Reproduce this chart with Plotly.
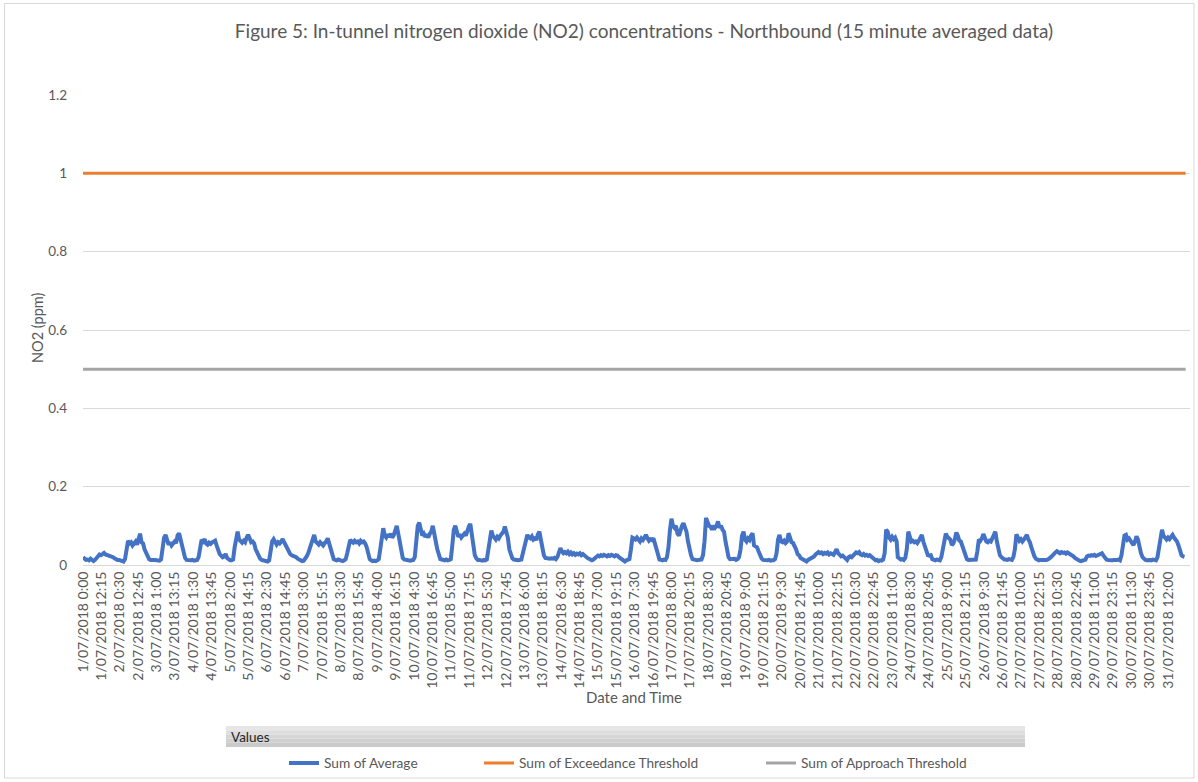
import pandas as pd
import plotly.graph_objects as go

# ---------------- text ----------------
TITLE = "Figure 5: In-tunnel nitrogen dioxide (NO2) concentrations - Northbound (15 minute averaged data)"
Y_TITLE = "NO2 (ppm)"
X_TITLE = "Date and Time"
FIELD_BUTTON = "Values"
NAME_AVG = "Sum of Average"
NAME_EXC = "Sum of Exceedance Threshold"
NAME_APP = "Sum of Approach Threshold"

# ---------------- data ----------------
EXCEEDANCE_THRESHOLD = 1.0
APPROACH_THRESHOLD = 0.5
PERIOD_START = "2018-07-01 00:00"
PERIOD_END = "2018-07-31 23:45"
MISSING_START = "2018-07-23 14:45"   # no readings logged until next day
MISSING_END = "2018-07-23 23:45"
LABEL_EVERY = 49                      # one category label every 49 slots
Y_TICKS = [0, 0.2, 0.4, 0.6, 0.8, 1, 1.2]

# NO2 (ppm) at each whole hour (0:00, 1:00, ... 23:00)
jul01 = [0.020, 0.016, 0.013, 0.014, 0.012, 0.016, 0.012, 0.010, 0.013, 0.018, 0.024, 0.027,
         0.025, 0.028, 0.031, 0.027, 0.026, 0.025, 0.022, 0.023, 0.020, 0.017, 0.014, 0.013]
jul02 = [0.013, 0.012, 0.010, 0.009, 0.015, 0.040, 0.062, 0.055, 0.058, 0.050, 0.056, 0.060,
         0.052, 0.068, 0.080, 0.058, 0.055, 0.040, 0.030, 0.020, 0.015, 0.013, 0.012, 0.013]
jul03 = [0.013, 0.012, 0.013, 0.011, 0.014, 0.040, 0.070, 0.077, 0.060, 0.052, 0.058, 0.050,
         0.055, 0.060, 0.056, 0.075, 0.081, 0.065, 0.045, 0.028, 0.018, 0.013, 0.012, 0.013]
jul04 = [0.012, 0.013, 0.011, 0.012, 0.013, 0.020, 0.045, 0.064, 0.060, 0.066, 0.055, 0.052,
         0.057, 0.054, 0.058, 0.060, 0.062, 0.050, 0.038, 0.028, 0.024, 0.020, 0.022, 0.028]
jul05 = [0.018, 0.014, 0.012, 0.012, 0.014, 0.045, 0.075, 0.085, 0.065, 0.060, 0.057, 0.062,
         0.058, 0.070, 0.077, 0.068, 0.058, 0.060, 0.055, 0.040, 0.030, 0.020, 0.016, 0.013]
jul06 = [0.012, 0.010, 0.011, 0.009, 0.012, 0.035, 0.060, 0.066, 0.056, 0.052, 0.058, 0.055,
         0.060, 0.066, 0.058, 0.050, 0.045, 0.035, 0.028, 0.025, 0.024, 0.022, 0.020, 0.016]
jul07 = [0.014, 0.012, 0.010, 0.011, 0.015, 0.022, 0.030, 0.040, 0.050, 0.060, 0.077, 0.060,
         0.055, 0.052, 0.058, 0.055, 0.050, 0.056, 0.060, 0.068, 0.055, 0.040, 0.025, 0.015]
jul08 = [0.013, 0.012, 0.014, 0.012, 0.011, 0.010, 0.012, 0.015, 0.030, 0.050, 0.064, 0.060,
         0.057, 0.062, 0.058, 0.060, 0.055, 0.062, 0.058, 0.060, 0.055, 0.045, 0.030, 0.015]
jul09 = [0.012, 0.010, 0.011, 0.010, 0.012, 0.015, 0.040, 0.070, 0.094, 0.075, 0.070, 0.078,
         0.072, 0.080, 0.070, 0.076, 0.085, 0.100, 0.080, 0.060, 0.030, 0.018, 0.014, 0.013]
jul10 = [0.012, 0.013, 0.011, 0.012, 0.013, 0.020, 0.060, 0.100, 0.108, 0.085, 0.075, 0.080,
         0.072, 0.078, 0.070, 0.080, 0.085, 0.100, 0.085, 0.060, 0.040, 0.022, 0.015, 0.014]
jul11 = [0.013, 0.012, 0.014, 0.012, 0.013, 0.015, 0.050, 0.090, 0.100, 0.080, 0.072, 0.078,
         0.070, 0.075, 0.080, 0.075, 0.088, 0.098, 0.105, 0.080, 0.050, 0.025, 0.017, 0.013]
jul12 = [0.013, 0.012, 0.011, 0.013, 0.012, 0.014, 0.040, 0.070, 0.088, 0.075, 0.070, 0.065,
         0.072, 0.068, 0.075, 0.080, 0.085, 0.098, 0.085, 0.070, 0.040, 0.025, 0.017, 0.014]
jul13 = [0.013, 0.014, 0.012, 0.013, 0.014, 0.030, 0.050, 0.070, 0.077, 0.070, 0.068, 0.073,
         0.065, 0.068, 0.064, 0.078, 0.085, 0.065, 0.040, 0.025, 0.018, 0.017, 0.018, 0.016]
jul14 = [0.017, 0.016, 0.018, 0.015, 0.020, 0.035, 0.043, 0.035, 0.030, 0.033, 0.030, 0.034,
         0.028, 0.032, 0.027, 0.030, 0.026, 0.029, 0.027, 0.030, 0.025, 0.028, 0.024, 0.020]
jul15 = [0.018, 0.016, 0.015, 0.012, 0.014, 0.018, 0.022, 0.024, 0.022, 0.025, 0.023, 0.026,
         0.024, 0.022, 0.025, 0.023, 0.026, 0.024, 0.022, 0.025, 0.024, 0.020, 0.017, 0.015]
jul16 = [0.012, 0.009, 0.012, 0.013, 0.015, 0.040, 0.070, 0.068, 0.065, 0.070, 0.066, 0.060,
         0.068, 0.064, 0.070, 0.077, 0.068, 0.062, 0.066, 0.064, 0.068, 0.055, 0.035, 0.020]
jul17 = [0.014, 0.013, 0.012, 0.014, 0.013, 0.020, 0.045, 0.090, 0.118, 0.100, 0.095, 0.100,
         0.080, 0.075, 0.090, 0.100, 0.107, 0.095, 0.085, 0.060, 0.035, 0.025, 0.015, 0.013]
jul18 = [0.013, 0.012, 0.013, 0.012, 0.014, 0.025, 0.060, 0.120, 0.110, 0.100, 0.098, 0.090,
         0.100, 0.095, 0.100, 0.111, 0.095, 0.100, 0.090, 0.085, 0.060, 0.035, 0.020, 0.015]
jul19 = [0.015, 0.014, 0.016, 0.013, 0.015, 0.020, 0.040, 0.075, 0.085, 0.065, 0.060, 0.068,
         0.064, 0.075, 0.081, 0.050, 0.048, 0.045, 0.035, 0.025, 0.017, 0.013, 0.012, 0.013]
jul20 = [0.012, 0.013, 0.011, 0.012, 0.012, 0.015, 0.030, 0.065, 0.077, 0.060, 0.058, 0.062,
         0.056, 0.060, 0.081, 0.070, 0.058, 0.056, 0.050, 0.040, 0.028, 0.025, 0.018, 0.016]
jul21 = [0.012, 0.010, 0.009, 0.013, 0.015, 0.017, 0.020, 0.022, 0.027, 0.030, 0.033, 0.030,
         0.032, 0.028, 0.031, 0.029, 0.032, 0.027, 0.030, 0.028, 0.026, 0.033, 0.040, 0.030]
jul22 = [0.025, 0.022, 0.024, 0.020, 0.018, 0.013, 0.020, 0.022, 0.020, 0.024, 0.028, 0.032,
         0.030, 0.033, 0.027, 0.025, 0.028, 0.024, 0.026, 0.023, 0.025, 0.022, 0.018, 0.014]
jul23 = [0.012, 0.013, 0.010, 0.012, 0.011, 0.014, 0.030, 0.090, 0.085, 0.070, 0.065, 0.072,
         0.066, 0.070, 0.060]
jul24 = [0.020, 0.015, 0.014, 0.015, 0.013, 0.018, 0.040, 0.085, 0.070, 0.060, 0.062, 0.058,
         0.060, 0.056, 0.062, 0.068, 0.077, 0.060, 0.050, 0.035, 0.025, 0.024, 0.025, 0.015]
jul25 = [0.013, 0.012, 0.014, 0.013, 0.012, 0.020, 0.040, 0.070, 0.080, 0.072, 0.068, 0.065,
         0.051, 0.055, 0.065, 0.083, 0.075, 0.062, 0.060, 0.050, 0.040, 0.025, 0.015, 0.013]
jul26 = [0.013, 0.012, 0.013, 0.012, 0.014, 0.035, 0.065, 0.062, 0.068, 0.079, 0.065, 0.060,
         0.058, 0.062, 0.060, 0.070, 0.078, 0.085, 0.060, 0.040, 0.025, 0.020, 0.016, 0.014]
jul27 = [0.014, 0.013, 0.015, 0.014, 0.013, 0.020, 0.040, 0.078, 0.070, 0.062, 0.066, 0.060,
         0.065, 0.070, 0.077, 0.065, 0.058, 0.045, 0.030, 0.022, 0.016, 0.014, 0.012, 0.013]
jul28 = [0.013, 0.012, 0.011, 0.013, 0.014, 0.016, 0.020, 0.024, 0.030, 0.032, 0.035, 0.032,
         0.030, 0.033, 0.031, 0.032, 0.029, 0.032, 0.030, 0.027, 0.024, 0.022, 0.018, 0.015]
jul29 = [0.012, 0.011, 0.010, 0.011, 0.012, 0.014, 0.022, 0.024, 0.023, 0.025, 0.024, 0.026,
         0.023, 0.025, 0.027, 0.028, 0.030, 0.024, 0.018, 0.014, 0.013, 0.012, 0.013, 0.012]
jul30 = [0.013, 0.012, 0.013, 0.014, 0.012, 0.025, 0.050, 0.075, 0.077, 0.065, 0.068, 0.062,
         0.058, 0.051, 0.060, 0.073, 0.065, 0.045, 0.030, 0.020, 0.015, 0.013, 0.012, 0.013]
jul31 = [0.013, 0.012, 0.014, 0.013, 0.012, 0.020, 0.040, 0.070, 0.090, 0.075, 0.068, 0.065,
         0.070, 0.066, 0.072, 0.077, 0.070, 0.066, 0.060, 0.050, 0.035, 0.025, 0.022, 0.021]

days = [jul01, jul02, jul03, jul04, jul05, jul06, jul07, jul08, jul09, jul10, jul11,
        jul12, jul13, jul14, jul15, jul16, jul17, jul18, jul19, jul20, jul21, jul22,
        jul23, jul24, jul25, jul26, jul27, jul28, jul29, jul30, jul31]

# ---------------- category slots (15-minute timeline) ----------------
slots = pd.date_range(PERIOD_START, PERIOD_END, freq="15min")
slots = slots[(slots < pd.Timestamp(MISSING_START)) | (slots > pd.Timestamp(MISSING_END))]
slot_pos = {t: i for i, t in enumerate(slots)}


def fmt(t):
    return f"{t.day}/{t.month:02d}/{t.year} {t.hour}:{t.minute:02d}"


slot_labels = [fmt(t) for t in slots]

avg_x, avg_y = [], []
for d, vals in enumerate(days, start=1):
    for h, v in enumerate(vals):
        t = pd.Timestamp(2018, 7, d, h)
        avg_x.append(slot_pos[t])
        avg_y.append(v)

tick_pos = list(range(0, len(slots), LABEL_EVERY))
tick_text = [slot_labels[i] for i in tick_pos]
first_slot, last_slot = 0, len(slots) - 1

# ---------------- layout geometry (pixels) ----------------
W, H = 1198, 782
PL, PR, PT, PB = 83, 1190, 95, 565
PX_PER_SLOT = (1168 - 83) / (59 * LABEL_EVERY)


def px_x(x):
    return (x - PL) / (PR - PL)


def px_y(y):
    return (PB - y) / (PB - PT)


FONT = "Lato, 'Open Sans', sans-serif"
GREY_TXT = "#595959"

fig = go.Figure()
fig.add_trace(go.Scatter(x=avg_x, y=avg_y, mode="lines", name=NAME_AVG,
                         line=dict(color="#4472C4", width=4), legend="legend"))
fig.add_trace(go.Scatter(x=[first_slot, last_slot], y=[EXCEEDANCE_THRESHOLD] * 2, mode="lines",
                         name=NAME_EXC, line=dict(color="#ED7D31", width=3), legend="legend2"))
fig.add_trace(go.Scatter(x=[first_slot, last_slot], y=[APPROACH_THRESHOLD] * 2, mode="lines",
                         name=NAME_APP, line=dict(color="#A5A5A5", width=3), legend="legend3"))

leg_common = dict(orientation="h", yanchor="middle", xanchor="left", bgcolor="rgba(0,0,0,0)",
                  font=dict(family=FONT, size=13.7, color=GREY_TXT), borderwidth=0, visible=True)
LEG_Y = px_y(763)

# Values field-button bar (approximate vertical gradient)
bar_cols = ["#e6e6e6", "#dedede", "#d6d6d6", "#d0d0d0", "#cacaca"]
bar_top, bar_bot = 726, 747
step = (bar_bot - bar_top) / len(bar_cols)
shapes = []
for k, c in enumerate(bar_cols):
    shapes.append(dict(type="rect", xref="paper", yref="paper",
                       x0=px_x(226), x1=px_x(1025),
                       y0=px_y(bar_top + k * step), y1=px_y(bar_top + (k + 1) * step),
                       fillcolor=c, line=dict(width=0), layer="below"))
# chart-area border
shapes.append(dict(type="rect", xref="paper", yref="paper",
                   x0=px_x(4.5), x1=px_x(1194), y0=px_y(3.5), y1=px_y(778),
                   line=dict(color="#d9d9d9", width=1), fillcolor="rgba(0,0,0,0)"))

fig.update_layout(
    width=W, height=H,
    margin=dict(l=PL, r=W - PR, t=PT, b=H - PB, autoexpand=False),
    showlegend=True,
    paper_bgcolor="white", plot_bgcolor="white",
    font=dict(family=FONT, color=GREY_TXT),
    title=dict(text=TITLE, x=644 / W, xref="container", xanchor="center",
               y=1 - 31 / H, yref="container", yanchor="middle",
               font=dict(family=FONT, size=19, color=GREY_TXT)),
    xaxis=dict(range=[0, (PR - PL) / PX_PER_SLOT], tickmode="array", tickvals=tick_pos,
               ticktext=tick_text, tickangle=-90, showgrid=False, zeroline=False,
               showline=True, linecolor="#d9d9d9", linewidth=1, ticks="",
               tickfont=dict(family=FONT, size=14, color=GREY_TXT)),
    yaxis=dict(range=[0, 1.2], tickmode="array", tickvals=Y_TICKS, showgrid=True,
               gridcolor="#d9d9d9", gridwidth=1, zeroline=False, showline=False, ticks="",
               ticklabelstandoff=15,
               tickfont=dict(family=FONT, size=13.5, color=GREY_TXT)),
    legend=dict(leg_common, x=px_x(284), y=LEG_Y),
    legend2=dict(leg_common, x=px_x(479), y=LEG_Y),
    legend3=dict(leg_common, x=px_x(761), y=LEG_Y),
    shapes=shapes,
    annotations=[
        dict(text=Y_TITLE, xref="paper", yref="paper", x=px_x(37), y=px_y(328), textangle=-90,
             showarrow=False, xanchor="center", yanchor="middle",
             font=dict(family=FONT, size=14.5, color=GREY_TXT)),
        dict(text=X_TITLE, xref="paper", yref="paper", x=px_x(634), y=px_y(697),
             showarrow=False, xanchor="center", yanchor="middle",
             font=dict(family=FONT, size=15, color=GREY_TXT)),
        dict(text=FIELD_BUTTON, xref="paper", yref="paper", x=px_x(229), y=px_y(737),
             showarrow=False, xanchor="left", yanchor="middle",
             font=dict(family=FONT, size=13.5, color="#262626")),
    ],
)

fig.write_html("out.html", config={"displayModeBar": False},
               post_script="document.body.style.margin='0';document.body.style.padding='0';")
